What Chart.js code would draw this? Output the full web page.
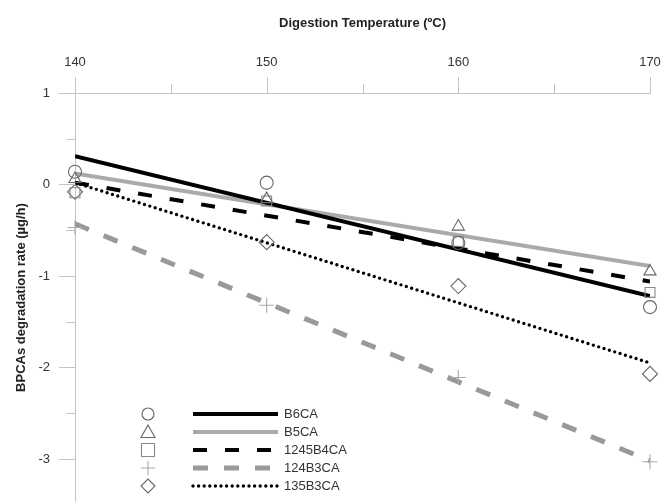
<!DOCTYPE html>
<html>
<head>
<meta charset="utf-8">
<script src="https://cdn.jsdelivr.net/npm/chart.js@4.4.1/dist/chart.umd.min.js"></script>
<style>
  html, body { margin: 0; padding: 0; background: #fff; }
  #wrap { width: 662px; height: 502px; position: relative; }
</style>
</head>
<body>
<div id="wrap"><canvas id="c" width="662" height="502"></canvas></div>
<script>
// ---- data ----
const temps = [140, 150, 160, 170];
const seriesNames = ['B6CA', 'B5CA', '1245B4CA', '124B3CA', '135B3CA'];
const b6ca     = [0.14, 0.02, -0.64, -1.34];
const b5ca     = [0.06, -0.16, -0.46, -0.95];
const b4ca1245 = [-0.09, -0.18, -0.62, -1.18];
const b3ca124  = [-0.47, -1.32, -2.11, -3.03];
const b3ca135  = [-0.08, -0.63, -1.11, -2.07];
// trend line end points (at 140 and 170)
const fitTemps    = [140, 170];
const b6caFit     = [0.31, -1.22];
const b5caFit     = [0.12, -0.89];
const b4ca1245Fit = [0.02, -1.06];
const b3ca124Fit  = [-0.43, -3.02];
const b3ca135Fit  = [0.02, -1.95];
const xTickValues = [140, 145, 150, 155, 160, 165, 170];
const yTickValues = [1, 0.5, 0, -0.5, -1, -1.5, -2, -2.5, -3];

const pts = (xs, ys) => xs.map((x, i) => ({x: x, y: ys[i]}));

const axisColor = '#c4c4c4';
Chart.defaults.font.family = "'Liberation Sans', Arial, sans-serif";
Chart.defaults.font.size = 13;
Chart.defaults.color = '#333';

const markerStyles = [
  {pointStyle: 'circle',   color: '#666', radius: 6.5},
  {pointStyle: 'triangle', color: '#666', radius: 7},
  {pointStyle: 'rect',     color: '#888', radius: 7},
  {pointStyle: 'cross',    color: '#aaa', radius: 7.5},
  {pointStyle: 'rectRot',  color: '#666', radius: 7.5}
];
const lineStyles = [
  {color: '#000', width: 4,   dash: [],       cap: 'butt'},
  {color: '#aaa', width: 4,   dash: [],       cap: 'butt'},
  {color: '#000', width: 4,   dash: [14, 18], cap: 'butt'},
  {color: '#999', width: 5,   dash: [15, 16], cap: 'butt'},
  {color: '#000', width: 3.4, dash: [0, 5.6], cap: 'round'}
];
const markerData = [b6ca, b5ca, b4ca1245, b3ca124, b3ca135];
const fitData = [b6caFit, b5caFit, b4ca1245Fit, b3ca124Fit, b3ca135Fit];

const datasets = [];
fitData.forEach((f, i) => {
  const s = lineStyles[i];
  datasets.push({
    label: seriesNames[i] + ' fit',
    data: pts(fitTemps, f),
    showLine: true,
    borderColor: s.color,
    borderWidth: s.width,
    borderDash: s.dash,
    borderCapStyle: s.cap,
    pointRadius: 0,
    pointHoverRadius: 0,
    fill: false,
    order: 2
  });
});
markerData.forEach((d, i) => {
  const m = markerStyles[i];
  datasets.push({
    label: seriesNames[i],
    data: pts(temps, d),
    showLine: false,
    clip: false,
    pointStyle: m.pointStyle,
    pointRadius: m.radius,
    pointBorderColor: m.color,
    pointBackgroundColor: 'rgba(0,0,0,0)',
    pointBorderWidth: 1.1,
    order: 1
  });
});

const tickPlugin = {
  id: 'ticks',
  afterDraw(chart) {
    const ctx = chart.ctx;
    const xs = chart.scales.x, ys = chart.scales.y;
    const top = chart.chartArea.top, left = chart.chartArea.left;
    ctx.save();
    ctx.strokeStyle = axisColor;
    ctx.lineWidth = 1;
    ctx.beginPath();
    xTickValues.forEach(v => {
      const px = Math.round(xs.getPixelForValue(v)) + 0.5;
      const len = (v % 10 === 0) ? 16 : 9;
      ctx.moveTo(px, top);
      ctx.lineTo(px, top - len);
    });
    yTickValues.forEach(v => {
      const py = Math.round(ys.getPixelForValue(v)) + 0.5;
      const len = Number.isInteger(v) ? 16 : 9;
      ctx.moveTo(left, py);
      ctx.lineTo(left - len, py);
    });
    ctx.stroke();
    ctx.restore();
  }
};

const legendPlugin = {
  id: 'customLegend',
  afterDraw(chart) {
    const ctx = chart.ctx;
    const rows = [414, 432, 450, 468, 486];
    const mx = 148, lx0 = 193, lx1 = 278, tx = 284;
    ctx.save();
    rows.forEach((y, i) => {
      const m = markerStyles[i];
      ctx.strokeStyle = m.color;
      ctx.lineWidth = 1.1;
      ctx.beginPath();
      if (m.pointStyle === 'circle') {
        ctx.arc(mx, y, 6, 0, Math.PI * 2);
      } else if (m.pointStyle === 'triangle') {
        ctx.moveTo(mx, y - 7); ctx.lineTo(mx + 7, y + 5.5); ctx.lineTo(mx - 7, y + 5.5); ctx.closePath();
      } else if (m.pointStyle === 'rect') {
        ctx.rect(mx - 6.5, y - 6.5, 13, 13);
      } else if (m.pointStyle === 'cross') {
        ctx.moveTo(mx - 7, y); ctx.lineTo(mx + 7, y); ctx.moveTo(mx, y - 7); ctx.lineTo(mx, y + 7);
      } else {
        ctx.moveTo(mx, y - 7); ctx.lineTo(mx + 7, y); ctx.lineTo(mx, y + 7); ctx.lineTo(mx - 7, y); ctx.closePath();
      }
      ctx.stroke();
      const s = lineStyles[i];
      ctx.strokeStyle = s.color;
      ctx.lineWidth = s.width;
      ctx.setLineDash(s.dash);
      ctx.lineCap = s.cap;
      ctx.beginPath();
      ctx.moveTo(lx0, y);
      ctx.lineTo(lx1, y);
      ctx.stroke();
      ctx.setLineDash([]);
      ctx.lineCap = 'butt';
      ctx.fillStyle = '#333';
      ctx.font = "13px 'Liberation Sans', Arial, sans-serif";
      ctx.textAlign = 'left';
      ctx.textBaseline = 'middle';
      ctx.fillText(seriesNames[i], tx, y);
    });
    ctx.restore();
  }
};

new Chart(document.getElementById('c'), {
  type: 'scatter',
  data: {datasets: datasets},
  options: {
    responsive: false,
    animation: false,
    events: [],
    layout: {autoPadding: false, padding: {top: 0, left: 0, right: 12, bottom: 0}},
    plugins: {legend: {display: false}, tooltip: {enabled: false}},
    scales: {
      x: {
        type: 'linear',
        position: 'top',
        min: 140, max: 170,
        ticks: {
          stepSize: 10,
          padding: 7,
          color: '#333',
          font: {size: 13},
          callback: v => String(v)
        },
        grid: {display: true, drawOnChartArea: false, drawTicks: true, tickLength: 16, color: 'rgba(0,0,0,0)'},
        border: {display: true, color: axisColor, width: 1},
        title: {
          display: true,
          text: 'Digestion Temperature (ºC)',
          font: {size: 13, weight: 'bold'},
          color: '#222',
          padding: {top: 16, bottom: 0}
        },
        afterFit(scale) {
          scale.height = 93;
          scale.paddingLeft = 0; scale.paddingRight = 0;
          scale.paddingTop = 0; scale.paddingBottom = 0;
        }
      },
      y: {
        type: 'linear',
        min: -3.47, max: 1,
        ticks: {
          stepSize: 0.5,
          padding: 9,
          color: '#333',
          font: {size: 13},
          callback: v => Number.isInteger(v) ? String(v) : ''
        },
        grid: {display: true, drawOnChartArea: false, drawTicks: true, tickLength: 16, color: 'rgba(0,0,0,0)'},
        border: {display: true, color: axisColor, width: 1},
        title: {
          display: true,
          text: 'BPCAs degradation rate (µg/h)',
          font: {size: 13, weight: 'bold'},
          color: '#222',
          padding: {top: 14, bottom: 0}
        },
        afterFit(scale) {
          scale.width = 75;
          scale.paddingLeft = 0; scale.paddingRight = 0;
          scale.paddingTop = 0; scale.paddingBottom = 0;
        }
      }
    }
  },
  plugins: [tickPlugin, legendPlugin]
});
</script>
</body>
</html>
